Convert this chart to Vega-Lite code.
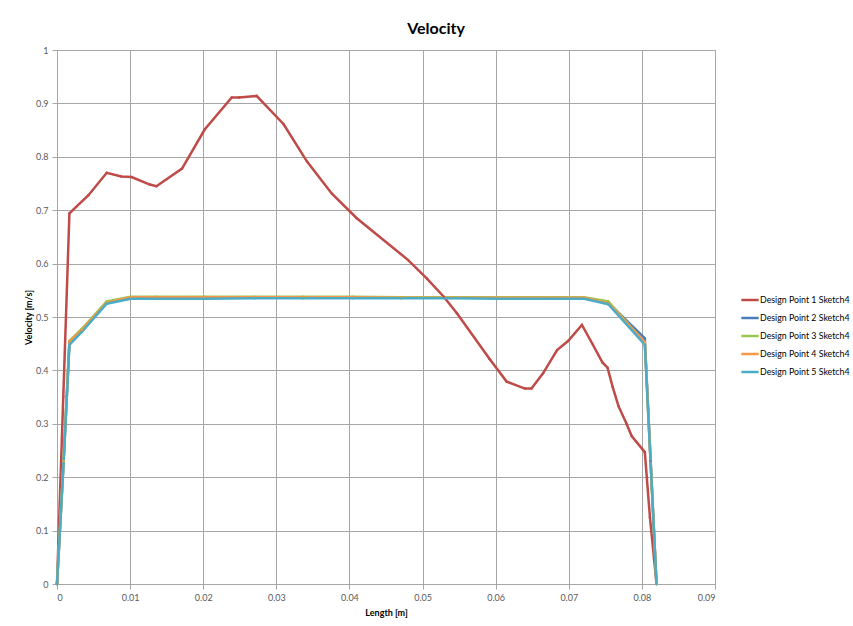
{
  "$schema": "https://vega.github.io/schema/vega-lite/v6.json",
  "autosize": {"type": "none"},
  "width": 658,
  "height": 534,
  "padding": {"left": 57, "top": 50, "right": 138, "bottom": 42},
  "background": "white",
  "title": {"text": "Velocity", "fontSize": 16, "font": "Lato", "fontWeight": "bold", "color": "#000000", "offset": 9, "dx": 50, "anchor": "middle"},
  "config": {
    "font": "Lato",
    "view": {"stroke": "#a6a6a6"},
    "axis": {"gridColor": "#a6a6a6", "gridWidth": 1, "domainColor": "#a6a6a6", "tickColor": "#a6a6a6", "tickSize": 5, "labelFontSize": 9, "labelColor": "#595959", "labelFont": "Lato", "titleFontSize": 9, "titleFont": "Lato", "titleFontWeight": "bold", "titleColor": "#000000"}
  },
  "data": {"values": [
    {"s": "Design Point 1 Sketch4", "Length": 0, "Velocity": 0},
    {"s": "Design Point 1 Sketch4", "Length": 0.00086, "Velocity": 0.351},
    {"s": "Design Point 1 Sketch4", "Length": 0.0017, "Velocity": 0.694},
    {"s": "Design Point 1 Sketch4", "Length": 0.0043, "Velocity": 0.728},
    {"s": "Design Point 1 Sketch4", "Length": 0.0068, "Velocity": 0.770},
    {"s": "Design Point 1 Sketch4", "Length": 0.0088, "Velocity": 0.763},
    {"s": "Design Point 1 Sketch4", "Length": 0.0102, "Velocity": 0.762},
    {"s": "Design Point 1 Sketch4", "Length": 0.0127, "Velocity": 0.748},
    {"s": "Design Point 1 Sketch4", "Length": 0.0136, "Velocity": 0.745},
    {"s": "Design Point 1 Sketch4", "Length": 0.0171, "Velocity": 0.778},
    {"s": "Design Point 1 Sketch4", "Length": 0.0202, "Velocity": 0.851},
    {"s": "Design Point 1 Sketch4", "Length": 0.0239, "Velocity": 0.911},
    {"s": "Design Point 1 Sketch4", "Length": 0.0249, "Velocity": 0.911},
    {"s": "Design Point 1 Sketch4", "Length": 0.0273, "Velocity": 0.914},
    {"s": "Design Point 1 Sketch4", "Length": 0.0310, "Velocity": 0.861},
    {"s": "Design Point 1 Sketch4", "Length": 0.0342, "Velocity": 0.791},
    {"s": "Design Point 1 Sketch4", "Length": 0.0376, "Velocity": 0.731},
    {"s": "Design Point 1 Sketch4", "Length": 0.0410, "Velocity": 0.685},
    {"s": "Design Point 1 Sketch4", "Length": 0.0480, "Velocity": 0.607},
    {"s": "Design Point 1 Sketch4", "Length": 0.0506, "Velocity": 0.572},
    {"s": "Design Point 1 Sketch4", "Length": 0.0529, "Velocity": 0.538},
    {"s": "Design Point 1 Sketch4", "Length": 0.0547, "Velocity": 0.507},
    {"s": "Design Point 1 Sketch4", "Length": 0.0592, "Velocity": 0.421},
    {"s": "Design Point 1 Sketch4", "Length": 0.0615, "Velocity": 0.379},
    {"s": "Design Point 1 Sketch4", "Length": 0.0640, "Velocity": 0.366},
    {"s": "Design Point 1 Sketch4", "Length": 0.0649, "Velocity": 0.366},
    {"s": "Design Point 1 Sketch4", "Length": 0.0665, "Velocity": 0.395},
    {"s": "Design Point 1 Sketch4", "Length": 0.0684, "Velocity": 0.438},
    {"s": "Design Point 1 Sketch4", "Length": 0.0699, "Velocity": 0.455},
    {"s": "Design Point 1 Sketch4", "Length": 0.0718, "Velocity": 0.485},
    {"s": "Design Point 1 Sketch4", "Length": 0.0733, "Velocity": 0.448},
    {"s": "Design Point 1 Sketch4", "Length": 0.0746, "Velocity": 0.415},
    {"s": "Design Point 1 Sketch4", "Length": 0.0753, "Velocity": 0.405},
    {"s": "Design Point 1 Sketch4", "Length": 0.0760, "Velocity": 0.369},
    {"s": "Design Point 1 Sketch4", "Length": 0.0768, "Velocity": 0.333},
    {"s": "Design Point 1 Sketch4", "Length": 0.0779, "Velocity": 0.300},
    {"s": "Design Point 1 Sketch4", "Length": 0.0786, "Velocity": 0.277},
    {"s": "Design Point 1 Sketch4", "Length": 0.0804, "Velocity": 0.247},
    {"s": "Design Point 1 Sketch4", "Length": 0.0811, "Velocity": 0.125},
    {"s": "Design Point 1 Sketch4", "Length": 0.0820, "Velocity": 0},

    {"s": "Design Point 2 Sketch4", "Length": 0, "Velocity": 0},
    {"s": "Design Point 2 Sketch4", "Length": 0.0009, "Velocity": 0.23},
    {"s": "Design Point 2 Sketch4", "Length": 0.0017, "Velocity": 0.454},
    {"s": "Design Point 2 Sketch4", "Length": 0.0034, "Velocity": 0.476},
    {"s": "Design Point 2 Sketch4", "Length": 0.0068, "Velocity": 0.527},
    {"s": "Design Point 2 Sketch4", "Length": 0.0101, "Velocity": 0.536},
    {"s": "Design Point 2 Sketch4", "Length": 0.0135, "Velocity": 0.536},
    {"s": "Design Point 2 Sketch4", "Length": 0.0202, "Velocity": 0.537},
    {"s": "Design Point 2 Sketch4", "Length": 0.0270, "Velocity": 0.537},
    {"s": "Design Point 2 Sketch4", "Length": 0.0337, "Velocity": 0.537},
    {"s": "Design Point 2 Sketch4", "Length": 0.0404, "Velocity": 0.537},
    {"s": "Design Point 2 Sketch4", "Length": 0.0471, "Velocity": 0.536},
    {"s": "Design Point 2 Sketch4", "Length": 0.0539, "Velocity": 0.536},
    {"s": "Design Point 2 Sketch4", "Length": 0.0606, "Velocity": 0.536},
    {"s": "Design Point 2 Sketch4", "Length": 0.0673, "Velocity": 0.535},
    {"s": "Design Point 2 Sketch4", "Length": 0.0721, "Velocity": 0.535},
    {"s": "Design Point 2 Sketch4", "Length": 0.0754, "Velocity": 0.527},
    {"s": "Design Point 2 Sketch4", "Length": 0.0804, "Velocity": 0.460},
    {"s": "Design Point 2 Sketch4", "Length": 0.0812, "Velocity": 0.230},
    {"s": "Design Point 2 Sketch4", "Length": 0.0820, "Velocity": 0},

    {"s": "Design Point 3 Sketch4", "Length": 0, "Velocity": 0},
    {"s": "Design Point 3 Sketch4", "Length": 0.0009, "Velocity": 0.23},
    {"s": "Design Point 3 Sketch4", "Length": 0.0017, "Velocity": 0.455},
    {"s": "Design Point 3 Sketch4", "Length": 0.0034, "Velocity": 0.478},
    {"s": "Design Point 3 Sketch4", "Length": 0.0068, "Velocity": 0.529},
    {"s": "Design Point 3 Sketch4", "Length": 0.0101, "Velocity": 0.538},
    {"s": "Design Point 3 Sketch4", "Length": 0.0135, "Velocity": 0.538},
    {"s": "Design Point 3 Sketch4", "Length": 0.0202, "Velocity": 0.538},
    {"s": "Design Point 3 Sketch4", "Length": 0.0270, "Velocity": 0.538},
    {"s": "Design Point 3 Sketch4", "Length": 0.0337, "Velocity": 0.538},
    {"s": "Design Point 3 Sketch4", "Length": 0.0404, "Velocity": 0.538},
    {"s": "Design Point 3 Sketch4", "Length": 0.0471, "Velocity": 0.537},
    {"s": "Design Point 3 Sketch4", "Length": 0.0539, "Velocity": 0.537},
    {"s": "Design Point 3 Sketch4", "Length": 0.0606, "Velocity": 0.537},
    {"s": "Design Point 3 Sketch4", "Length": 0.0673, "Velocity": 0.537},
    {"s": "Design Point 3 Sketch4", "Length": 0.0721, "Velocity": 0.537},
    {"s": "Design Point 3 Sketch4", "Length": 0.0754, "Velocity": 0.529},
    {"s": "Design Point 3 Sketch4", "Length": 0.0804, "Velocity": 0.452},
    {"s": "Design Point 3 Sketch4", "Length": 0.0812, "Velocity": 0.226},
    {"s": "Design Point 3 Sketch4", "Length": 0.0820, "Velocity": 0},

    {"s": "Design Point 4 Sketch4", "Length": 0, "Velocity": 0},
    {"s": "Design Point 4 Sketch4", "Length": 0.0009, "Velocity": 0.23},
    {"s": "Design Point 4 Sketch4", "Length": 0.0017, "Velocity": 0.454},
    {"s": "Design Point 4 Sketch4", "Length": 0.0034, "Velocity": 0.476},
    {"s": "Design Point 4 Sketch4", "Length": 0.0068, "Velocity": 0.527},
    {"s": "Design Point 4 Sketch4", "Length": 0.0101, "Velocity": 0.537},
    {"s": "Design Point 4 Sketch4", "Length": 0.0135, "Velocity": 0.537},
    {"s": "Design Point 4 Sketch4", "Length": 0.0202, "Velocity": 0.537},
    {"s": "Design Point 4 Sketch4", "Length": 0.0270, "Velocity": 0.537},
    {"s": "Design Point 4 Sketch4", "Length": 0.0337, "Velocity": 0.537},
    {"s": "Design Point 4 Sketch4", "Length": 0.0404, "Velocity": 0.537},
    {"s": "Design Point 4 Sketch4", "Length": 0.0471, "Velocity": 0.536},
    {"s": "Design Point 4 Sketch4", "Length": 0.0539, "Velocity": 0.536},
    {"s": "Design Point 4 Sketch4", "Length": 0.0606, "Velocity": 0.536},
    {"s": "Design Point 4 Sketch4", "Length": 0.0673, "Velocity": 0.536},
    {"s": "Design Point 4 Sketch4", "Length": 0.0721, "Velocity": 0.536},
    {"s": "Design Point 4 Sketch4", "Length": 0.0754, "Velocity": 0.526},
    {"s": "Design Point 4 Sketch4", "Length": 0.0804, "Velocity": 0.453},
    {"s": "Design Point 4 Sketch4", "Length": 0.0812, "Velocity": 0.227},
    {"s": "Design Point 4 Sketch4", "Length": 0.0820, "Velocity": 0},

    {"s": "Design Point 5 Sketch4", "Length": 0, "Velocity": 0},
    {"s": "Design Point 5 Sketch4", "Length": 0.0009, "Velocity": 0.226},
    {"s": "Design Point 5 Sketch4", "Length": 0.0017, "Velocity": 0.448},
    {"s": "Design Point 5 Sketch4", "Length": 0.0034, "Velocity": 0.472},
    {"s": "Design Point 5 Sketch4", "Length": 0.0068, "Velocity": 0.525},
    {"s": "Design Point 5 Sketch4", "Length": 0.0101, "Velocity": 0.534},
    {"s": "Design Point 5 Sketch4", "Length": 0.0135, "Velocity": 0.534},
    {"s": "Design Point 5 Sketch4", "Length": 0.0202, "Velocity": 0.534},
    {"s": "Design Point 5 Sketch4", "Length": 0.0270, "Velocity": 0.535},
    {"s": "Design Point 5 Sketch4", "Length": 0.0337, "Velocity": 0.535},
    {"s": "Design Point 5 Sketch4", "Length": 0.0404, "Velocity": 0.535},
    {"s": "Design Point 5 Sketch4", "Length": 0.0471, "Velocity": 0.535},
    {"s": "Design Point 5 Sketch4", "Length": 0.0539, "Velocity": 0.535},
    {"s": "Design Point 5 Sketch4", "Length": 0.0606, "Velocity": 0.534},
    {"s": "Design Point 5 Sketch4", "Length": 0.0673, "Velocity": 0.534},
    {"s": "Design Point 5 Sketch4", "Length": 0.0721, "Velocity": 0.534},
    {"s": "Design Point 5 Sketch4", "Length": 0.0754, "Velocity": 0.524},
    {"s": "Design Point 5 Sketch4", "Length": 0.0804, "Velocity": 0.448},
    {"s": "Design Point 5 Sketch4", "Length": 0.0812, "Velocity": 0.226},
    {"s": "Design Point 5 Sketch4", "Length": 0.0820, "Velocity": 0}
  ]},
  "mark": {"type": "line", "strokeWidth": 2.5, "point": {"size": 6, "filled": true}},
  "encoding": {
    "x": {"field": "Length", "type": "quantitative", "title": "Length [m]",
      "scale": {"domain": [0, 0.09], "nice": false, "zero": true},
      "axis": {"values": [0, 0.01, 0.02, 0.03, 0.04, 0.05, 0.06, 0.07, 0.08, 0.09], "format": ".2~f", "labelPadding": 4, "titlePadding": 6}},
    "y": {"field": "Velocity", "type": "quantitative", "title": "Velocity [m/s]",
      "scale": {"domain": [0, 1], "nice": false},
      "axis": {"values": [0, 0.1, 0.2, 0.3, 0.4, 0.5, 0.6, 0.7, 0.8, 0.9, 1], "format": ".1~f", "labelPadding": 4, "titlePadding": 2}},
    "color": {"field": "s", "type": "nominal", "title": null,
      "scale": {"domain": ["Design Point 1 Sketch4", "Design Point 2 Sketch4", "Design Point 3 Sketch4", "Design Point 4 Sketch4", "Design Point 5 Sketch4"],
                "range": ["#BE4B48", "#4A7EBB", "#98C94F", "#F79646", "#4BACC6"]},
      "legend": {"orient": "none", "legendX": 683, "legendY": 240, "symbolType": "stroke", "symbolSize": 300, "symbolStrokeWidth": 2.5, "labelFontSize": 8.8, "labelColor": "#000000", "labelFont": "Lato", "rowPadding": 3, "labelOffset": 0, "labelLimit": 200}}
  }
}
